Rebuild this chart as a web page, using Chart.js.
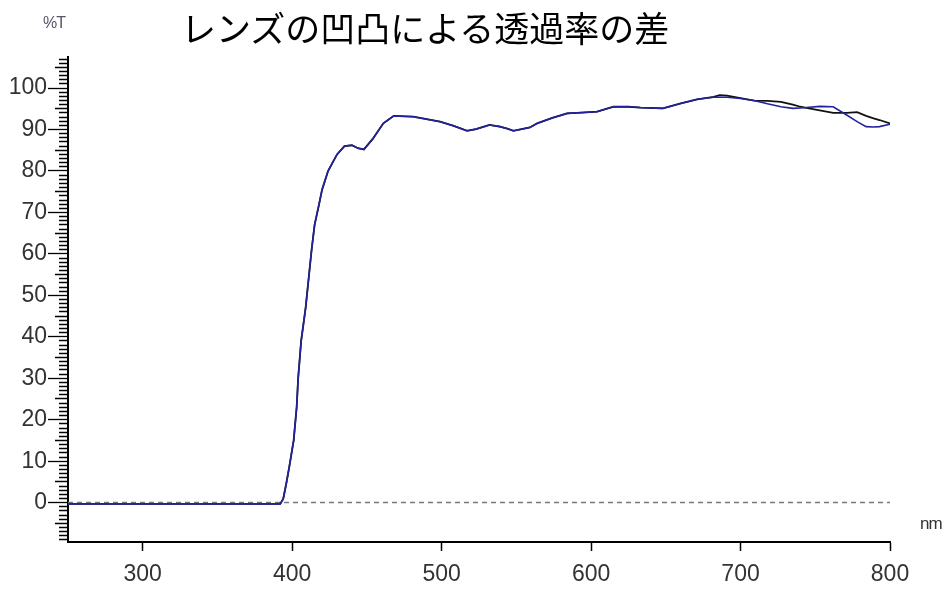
<!DOCTYPE html>
<html>
<head>
<meta charset="utf-8">
<script src="https://cdn.jsdelivr.net/npm/chart.js@4"></script>
<style>
  body { margin: 0; background: #fff; }
  #wrap { position: relative; width: 945px; height: 589px; }
  #title { position: absolute; left: 181px; top: 9px; font: 35px "Noto Sans CJK JP", sans-serif; line-height: 1; color: #000; white-space: nowrap; }
  #yunit { position: absolute; left: 43px; top: 14px; font: 16px "Liberation Sans", sans-serif; color: #556; letter-spacing: -1px; }
  #xunit { position: absolute; left: 920px; top: 514px; font: 17px "Liberation Sans", sans-serif; color: #333; letter-spacing: -1px; }
</style>
</head>
<body>
<div id="wrap">
  <canvas id="spectrum" width="945" height="589"></canvas>
  <div id="title">レンズの凹凸による透過率の差</div>
  <div id="yunit">%T</div>
  <div id="xunit">nm</div>
</div>
<script>
// wavelength (nm)
const wavelengths = [250, 300, 350, 392, 394, 396, 398, 401, 403, 404, 406, 409, 411, 413, 415, 418, 420, 424, 430, 435,
    440, 444, 448, 454, 461, 468, 475, 481, 490, 499, 508, 517, 523, 532, 539, 544, 548, 551, 559, 564,
    574, 584, 594, 604, 615, 625, 633, 648, 660, 671, 682, 686, 691, 700, 709, 718, 727, 735, 740, 744,
    753, 762, 771, 778, 784, 789, 793, 800];

// %T, black trace
const blackT = [-0.3, -0.3, -0.3, -0.3, 0.9, 4.5, 8.5, 15, 23, 30, 39, 47, 54, 61, 67, 72, 75.5, 80, 84, 86,
    86.2, 85.5, 85.2, 87.8, 91.5, 93.3, 93.2, 93.1, 92.5, 91.9, 90.9, 89.7, 90.1, 91.1, 90.7, 90.2, 89.7, 89.9, 90.5, 91.5,
    92.8, 93.9, 94.1, 94.3, 95.5, 95.5, 95.3, 95.1, 96.3, 97.3, 97.9, 98.3, 98.2, 97.6, 97.0, 96.9, 96.7, 96.0, 95.5, 95.2,
    94.6, 94.0, 94.0, 94.2, 93.3, 92.7, 92.3, 91.5];

// %T, blue trace
const blueT = [-0.3, -0.3, -0.3, -0.3, 0.9, 4.5, 8.5, 15, 23, 30, 39, 47, 54, 61, 67, 72, 75.5, 80, 84, 86,
    86.2, 85.5, 85.2, 87.8, 91.5, 93.3, 93.2, 93.1, 92.5, 91.9, 90.9, 89.7, 90.1, 91.1, 90.7, 90.2, 89.7, 89.9, 90.5, 91.5,
    92.8, 93.9, 94.1, 94.3, 95.5, 95.5, 95.3, 95.1, 96.3, 97.3, 97.8, 97.8, 97.8, 97.5, 97.0, 96.2, 95.5, 95.1, 95.2, 95.3,
    95.6, 95.5, 93.5, 91.9, 90.7, 90.6, 90.7, 91.3];

const xTicks = [300, 400, 500, 600, 700, 800];
const yLabels = [0, 10, 20, 30, 40, 50, 60, 70, 80, 90, 100];
const xMin = 250, xMax = 800;
const yMin = -9.5, yMax = 107.5;

const toPoints = (ys) => wavelengths.map((x, i) => ({ x: x, y: ys[i] }));

const tickFont = { family: '"Liberation Sans", sans-serif', size: 23 };

new Chart(document.getElementById('spectrum'), {
    type: 'line',
    data: {
        datasets: [
            {
                label: 'blue',
                data: toPoints(blueT),
                borderColor: '#22229e',
                borderWidth: 1.6,
                pointRadius: 0,
                tension: 0,
                order: 0
            },
            {
                label: 'black',
                data: toPoints(blackT),
                borderColor: '#111',
                borderWidth: 1.8,
                pointRadius: 0,
                tension: 0,
                order: 1
            },
            {
                label: 'zero',
                data: [{ x: xMin, y: 0 }, { x: xMax, y: 0 }],
                borderColor: '#777',
                borderWidth: 1.5,
                borderDash: [5, 4],
                pointRadius: 0,
                order: 2
            }
        ]
    },
    options: {
        responsive: false,
        animation: false,
        layout: { padding: { top: 57, right: 55, left: 0, bottom: 0 } },
        plugins: { legend: { display: false }, tooltip: { enabled: false } },
        scales: {
            x: {
                type: 'linear',
                min: xMin,
                max: xMax,
                afterBuildTicks: (scale) => { scale.ticks = xTicks.map(v => ({ value: v })); },
                afterFit: (scale) => { scale.height = 47; },
                border: { color: '#000', width: 2 },
                grid: { drawOnChartArea: false, tickLength: 9, tickColor: '#000', tickWidth: 1.5 },
                ticks: { font: tickFont, color: '#333', padding: 10 }
            },
            y: {
                min: yMin,
                max: yMax,
                afterBuildTicks: (scale) => {
                    const t = [];
                    for (let v = Math.ceil(yMin); v <= Math.floor(yMax); v++) t.push({ value: v });
                    scale.ticks = t;
                },
                afterFit: (scale) => { scale.width = 68; },
                border: { color: '#000', width: 2 },
                grid: {
                    drawOnChartArea: false,
                    tickLength: 20,
                    tickColor: '#000',
                    tickWidth: 1.3,
                    tickBorderDash: (ctx) => {
                        const v = ctx.tick ? ctx.tick.value : 0;
                        if (yLabels.includes(v)) return [];
                        const len = (v % 5 === 0) ? 13 : 9;
                        return [0, 20 - len, len, 40];
                    }
                },
                ticks: {
                    font: tickFont,
                    color: '#333',
                    padding: 1,
                    autoSkip: false,
                    callback: (v) => yLabels.includes(v) ? String(v) : ''
                }
            }
        }
    }
});
</script>
</body>
</html>
